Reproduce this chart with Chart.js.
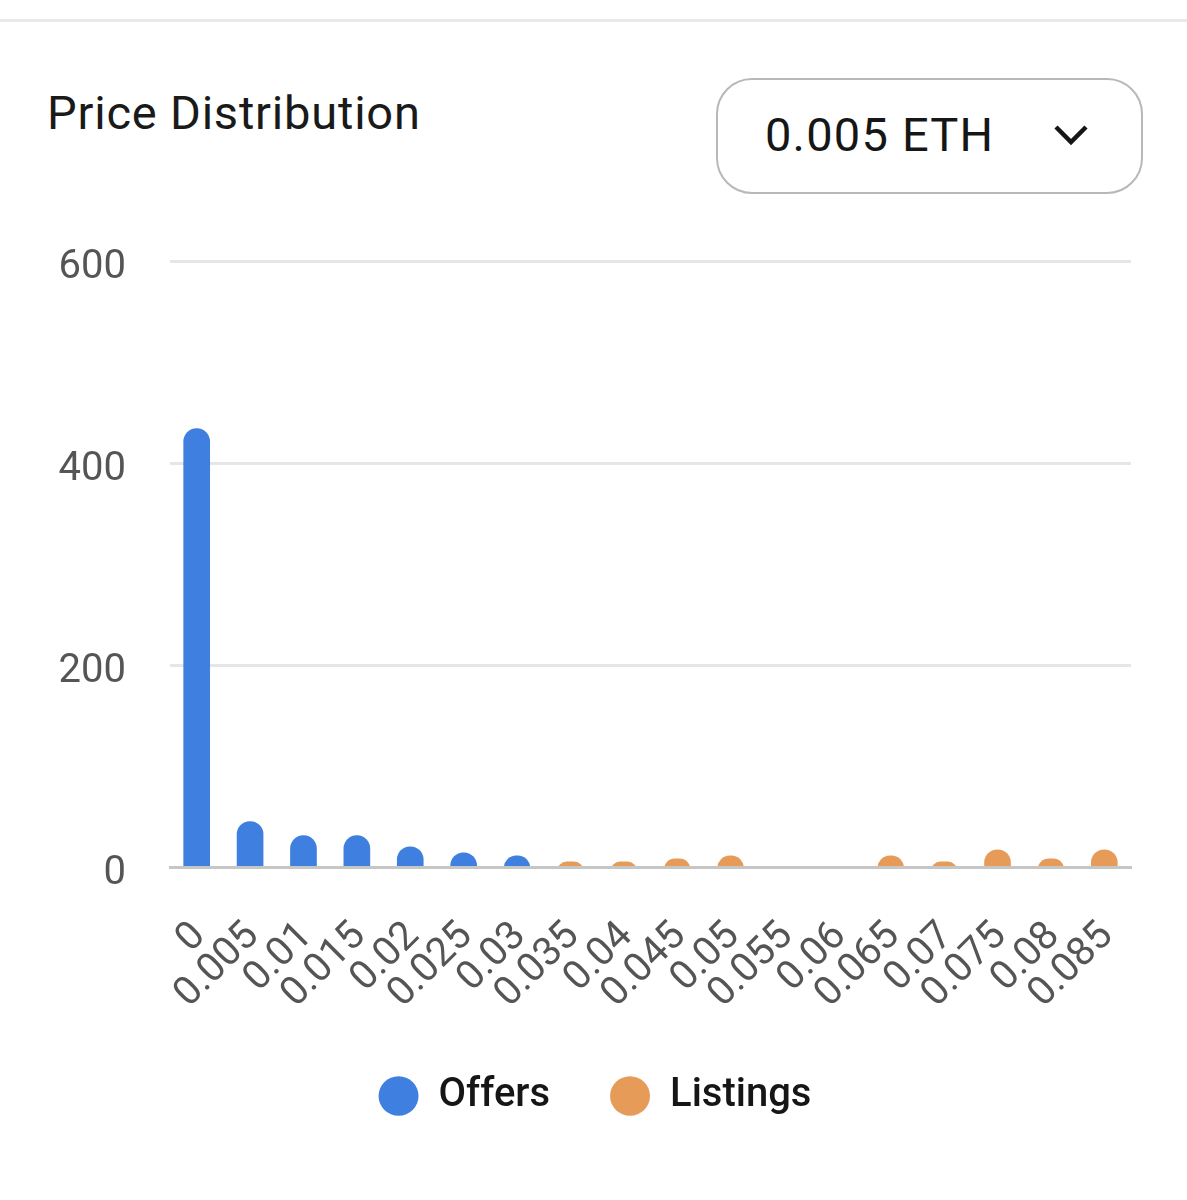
<!DOCTYPE html>
<html>
<head>
<meta charset="utf-8">
<title>Price Distribution</title>
<script src="https://cdn.jsdelivr.net/npm/chart.js@4"></script>
<style>
  html, body { margin: 0; padding: 0; background: #fff; }
  body { position: relative; width: 1187px; height: 1200px; overflow: hidden; font-family: Roboto, sans-serif; }
  #rule { position: absolute; left: 0; top: 19px; width: 1187px; height: 3px; background: #e9e9e9; }
  #title { position: absolute; left: 47px; top: 85px; font-size: 47px; letter-spacing: 0.8px; line-height: 56px; color: #1a1a1a; }
  #picker { position: absolute; left: 716px; top: 78px; width: 423px; height: 112px; border: 2.5px solid #b8b8b8; border-radius: 36px; }
  #picker span { position: absolute; left: 47px; top: 27px; font-size: 47px; letter-spacing: 1.2px; line-height: 56px; color: #161616; }
  #picker svg { position: absolute; left: 335px; top: 42px; }
  #chart-box { position: absolute; left: 0; top: 0; width: 1187px; height: 1200px; }
</style>
</head>
<body>
<div id="rule"></div>
<div id="title">Price Distribution</div>
<div id="picker">
  <span>0.005 ETH</span>
  <svg width="36" height="26" viewBox="0 0 36 26"><polyline points="3,5 18,20 33,5" fill="none" stroke="#161616" stroke-width="4.5"/></svg>
</div>
<div id="chart-box"><canvas id="chart"></canvas></div>
<script>
const categories = ['0', '0.005', '0.01', '0.015', '0.02', '0.025', '0.03', '0.035', '0.04', '0.045', '0.05', '0.055', '0.06', '0.065', '0.07', '0.075', '0.08', '0.085'];
const offers = [434, 45, 31, 31, 20, 14, 11, null, null, null, null, null, null, null, null, null, null, null];
const listings = [null, null, null, null, null, null, null, 5, 5, 8, 11, null, null, 11, 5, 17, 8, 17];

const tickColor = '#555555';

// bars start below the axis so small ones keep the full round top, the plot area clips the rest
const barBase = -14;

new Chart(document.querySelector('#chart'), {
  type: 'bar',
  data: {
    labels: categories,
    datasets: [
      { label: 'Offers', data: offers, backgroundColor: '#3f7fe0', base: barBase },
      { label: 'Listings', data: listings, backgroundColor: '#e69c58', base: barBase }
    ]
  },
  options: {
    responsive: true,
    maintainAspectRatio: false,
    animation: false,
    devicePixelRatio: 1,
    layout: { padding: { left: 59, right: 56, top: 261, bottom: 74 } },
    datasets: {
      bar: {
        grouped: false,
        barThickness: 26,
        borderRadius: { topLeft: 13, topRight: 13 },
        borderSkipped: false
      }
    },
    scales: {
      x: {
        afterFit: scale => {
          scale.height = 149;
          scale.paddingLeft = 0;
        },
        grid: { display: false },
        border: { color: '#c6c6c6', width: 3, z: 1 },
        ticks: {
          autoSkip: false,
          minRotation: 45,
          maxRotation: 45,
          padding: 38,
          labelOffset: 3,
          color: tickColor,
          font: { family: 'Roboto', size: 40 }
        }
      },
      y: {
        afterFit: scale => { scale.width = 111; },
        min: 0,
        max: 600,
        grid: { color: '#e6e6e6', lineWidth: 3, drawTicks: false },
        border: { display: false },
        ticks: {
          stepSize: 200,
          padding: 44,
          labelOffset: 7,
          color: tickColor,
          font: { family: 'Roboto', size: 40 }
        }
      }
    },
    plugins: {
      legend: {
        position: 'bottom',
        labels: {
          usePointStyle: true,
          pointStyle: 'circle',
          pointStyleWidth: 40,
          boxHeight: 28,
          padding: 60,
          color: '#161616',
          font: { family: 'Roboto', size: 40, weight: '500' }
        }
      },
      tooltip: { enabled: false }
    }
  }
});
</script>
</body>
</html>
